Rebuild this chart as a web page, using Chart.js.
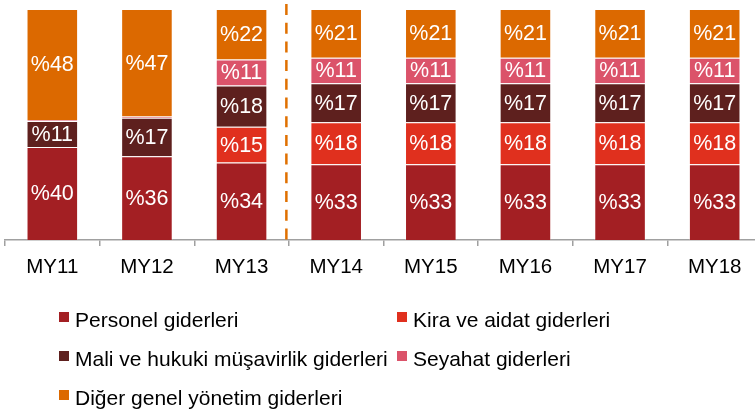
<!DOCTYPE html>
<html>
<head>
<meta charset="utf-8">
<script src="https://cdn.jsdelivr.net/npm/chart.js@4/dist/chart.umd.min.js"></script>
<style>
  html, body { margin: 0; padding: 0; background: #fff; overflow: hidden; }
  #wrap { position: relative; width: 762px; height: 413px; }
</style>
</head>
<body>
<div id="wrap"><canvas id="c"></canvas></div>
<script>
const categories = ['MY11', 'MY12', 'MY13', 'MY14', 'MY15', 'MY16', 'MY17', 'MY18'];
const seriesNames = ['Personel giderleri', 'Kira ve aidat giderleri', 'Mali ve hukuki müşavirlik giderleri', 'Seyahat giderleri', 'Diğer genel yönetim giderleri'];
const personel = [40.3, 36.3, 33.6, 32.8, 32.8, 32.8, 32.8, 32.8];
const kira     = [0, 0, 15.4, 18.2, 18.2, 18.2, 18.2, 18.2];
const mali     = [11.2, 16.6, 17.9, 16.9, 16.9, 16.9, 16.9, 16.9];
const seyahat  = [0.4, 0.6, 11.2, 11.0, 11.0, 11.0, 11.0, 11.0];
const diger    = [48.1, 46.5, 21.9, 21.1, 21.1, 21.1, 21.1, 21.1];
const colors = ['#A31F23', '#E0301E', '#5E201E', '#DB536A', '#DC6900'];
const seriesData = [personel, kira, mali, seyahat, diger];

const FONT = '"Liberation Sans", Arial, sans-serif';

const labelPlugin = {
  id: 'segLabels',
  afterDatasetsDraw(chart) {
    const ctx = chart.ctx;
    ctx.save();
    ctx.font = '21.5px ' + FONT;
    ctx.fillStyle = '#ffffff';
    ctx.textAlign = 'center';
    ctx.textBaseline = 'middle';
    chart.data.datasets.forEach((ds, di) => {
      const meta = chart.getDatasetMeta(di);
      meta.data.forEach((bar, i) => {
        const v = ds.data[i];
        if (v < 3) return;
        ctx.fillText('%' + Math.round(v), bar.x, (bar.y + bar.base) / 2 + 1);
      });
    });
    ctx.restore();
  }
};

const dashPlugin = {
  id: 'forecastLine',
  afterDatasetsDraw(chart) {
    const xs = chart.scales.x;
    const x = (xs.getPixelForValue(2) + xs.getPixelForValue(3)) / 2 - 2.5;
    const ctx = chart.ctx;
    ctx.save();
    ctx.strokeStyle = '#E07000';
    ctx.lineWidth = 2.5;
    ctx.setLineDash([11, 7.7]);
    ctx.beginPath();
    ctx.moveTo(x, chart.chartArea.top - 5);
    ctx.lineTo(x, chart.chartArea.bottom);
    ctx.stroke();
    ctx.restore();
  }
};

const legendPlugin = {
  id: 'gridLegend',
  afterDraw(chart) {
    const ctx = chart.ctx;
    ctx.save();
    ctx.font = '21px ' + FONT;
    ctx.textAlign = 'left';
    ctx.textBaseline = 'alphabetic';
    chart.data.datasets.forEach((ds, i) => {
      const col = i % 2, row = Math.floor(i / 2);
      const x = col === 0 ? 59 : 397;
      const y = 312 + row * 39;
      ctx.fillStyle = ds.backgroundColor;
      ctx.fillRect(x, y, 10, 10);
      ctx.fillStyle = '#000000';
      ctx.fillText(ds.label, x + 16, y + 15);
    });
    ctx.restore();
  }
};

new Chart(document.getElementById('c'), {
  type: 'bar',
  data: {
    labels: categories,
    datasets: seriesNames.map((name, i) => ({
      label: name,
      data: seriesData[i],
      backgroundColor: colors[i],
      borderColor: 'rgba(255,255,255,0.25)',
      borderWidth: 1,
      barPercentage: 0.545,
      categoryPercentage: 1
    }))
  },
  options: {
    responsive: true,
    maintainAspectRatio: false,
    animation: false,
    layout: { padding: { top: 9, left: 5, right: 0, bottom: 0 } },
    plugins: {
      legend: { display: false },
      tooltip: { enabled: false }
    },
    scales: {
      x: {
        stacked: true,
        afterFit(scale) { scale.height = 173; },
        grid: {
          display: true,
          drawOnChartArea: false,
          drawTicks: true,
          tickLength: 6,
          color: '#A0A0A0',
          lineWidth: 1.5,
          offset: true
        },
        border: { display: true, color: '#A0A0A0', width: 1.6 },
        ticks: {
          color: '#000000',
          font: { family: FONT, size: 20.5 },
          padding: 9,
          maxRotation: 0,
          autoSkip: false
        }
      },
      y: {
        stacked: true,
        display: false,
        min: 0,
        max: 100
      }
    }
  },
  plugins: [labelPlugin, dashPlugin, legendPlugin]
});
</script>
</body>
</html>
